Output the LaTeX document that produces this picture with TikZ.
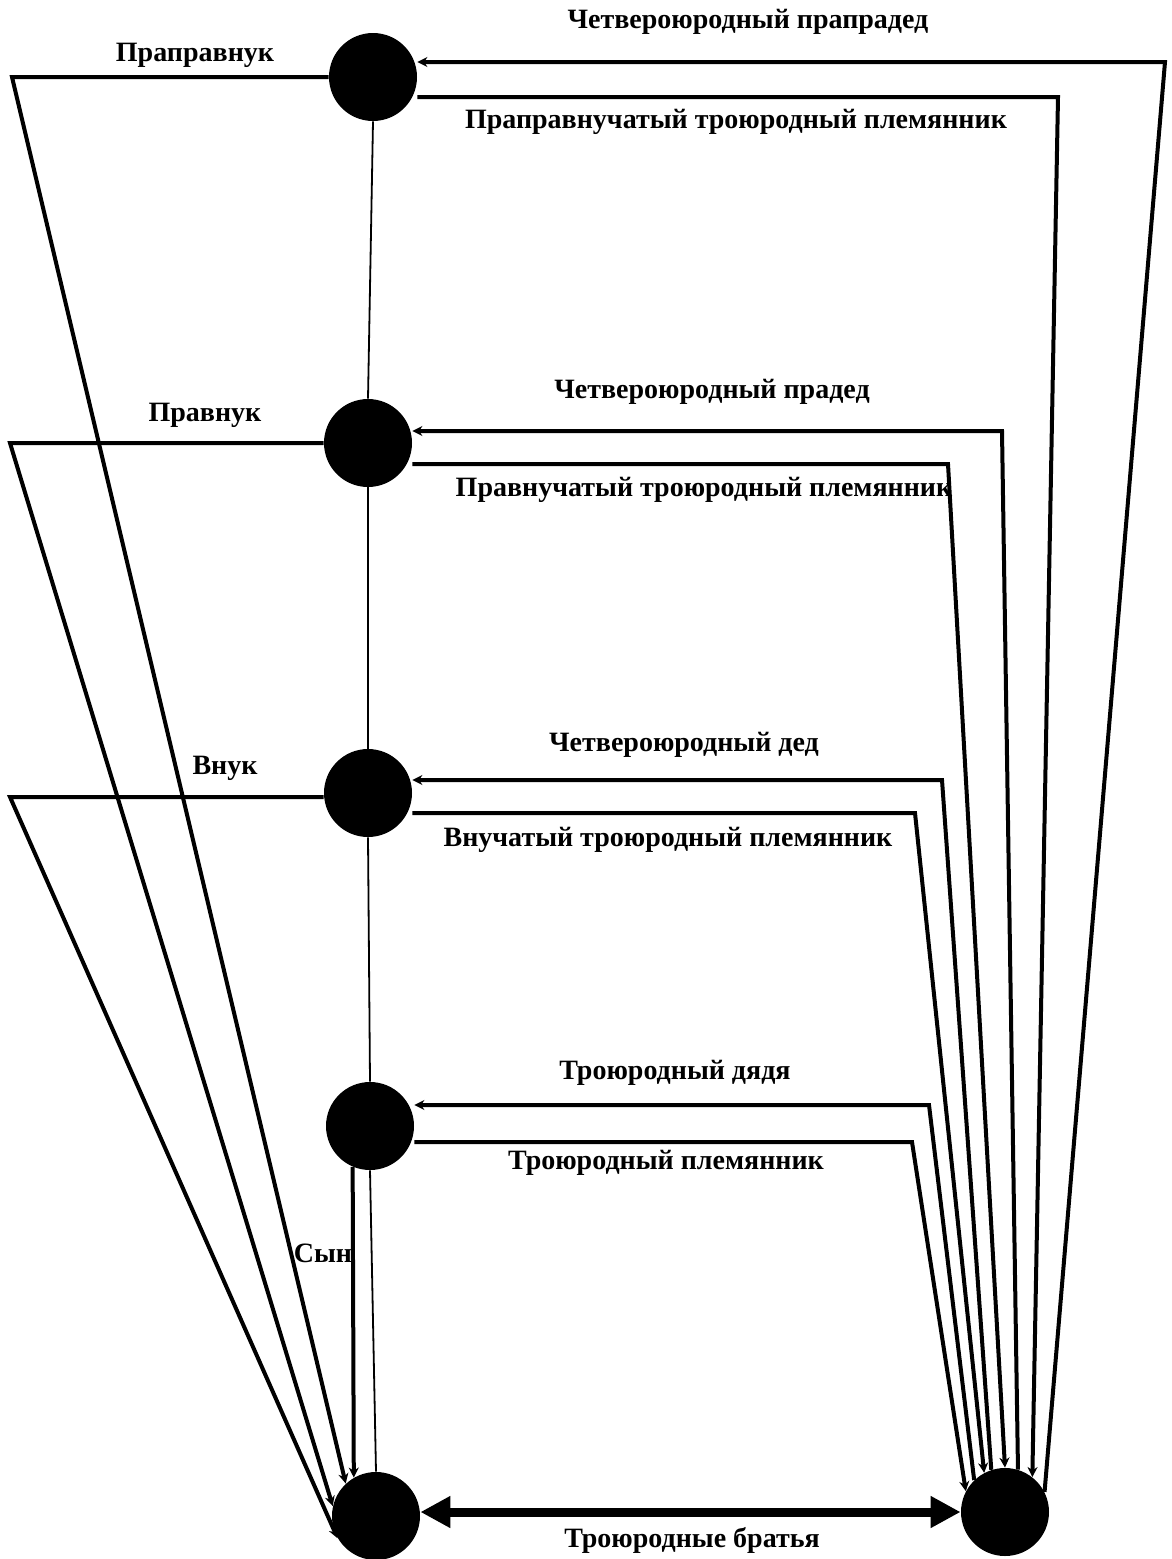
\documentclass[tikz,border=0pt]{standalone}
\usepackage{fontspec}
\setmainfont{Liberation Serif}
\usetikzlibrary{arrows.meta}

\begin{document}
\begin{tikzpicture}[x=0.5pt, y=-0.5pt,
  person/.style={circle, fill=black, minimum size=44pt, inner sep=0pt},
  link/.style={line width=2pt, -{Stealth[length=5pt,width=5pt]}},
  chain/.style={line width=0.9pt},
  kin/.style={font=\bfseries\fontsize{14}{16}\selectfont, inner sep=0pt},
  brothers/.style={line width=4.5pt,
    {Triangle[length=15pt,width=15pt]}-{Triangle[length=15pt,width=15pt]}}]
  \useasboundingbox (0,0) rectangle (1172,1559);
  \node[person] (n1) at (373,77) {};
  \node[person] (n2) at (368,443) {};
  \node[person] (n3) at (368,793) {};
  \node[person] (n4) at (370,1126) {};
  \node[person] (bl) at (376,1516) {};
  \node[person] (br) at (1005,1512) {};
  \draw[chain] (n1.south) -- (n2.north);
  \draw[chain] (n2.south) -- (n3.north);
  \draw[chain] (n3.south) -- (n4.north);
  \draw[chain] (n4.south) -- (bl.north);
  \coordinate (p1) at (12,77);
  \coordinate (p2) at (10,443);
  \coordinate (p3) at (10,797);
  \draw[link] (n1.west) -- (p1) -- (bl.133);
  \draw[link] (n2.west) -- (p2) -- (bl.167);
  \draw[link] (n3.west |- p3) -- (p3) -- (bl.210);
  \draw[link] (n4.247) -- (bl.120);
  \coordinate (u1) at (1165,62);
  \coordinate (l1) at (1058,97);
  \coordinate (u2) at (1002,431);
  \coordinate (l2) at (948,464);
  \coordinate (u3) at (942,780);
  \coordinate (l3) at (915,813);
  \coordinate (u4) at (929,1105);
  \coordinate (l4) at (912,1142);
  \draw[link] (br.27) -- (u1) -- (u1 -| n1.east);
  \draw[link] (l1 -| n1.east) -- (l1) -- (br.52);
  \draw[link] (br.73) -- (u2) -- (u2 -| n2.east);
  \draw[link] (l2 -| n2.east) -- (l2) -- (br.90);
  \draw[link] (br.108) -- (u3) -- (u3 -| n3.east);
  \draw[link] (l3 -| n3.east) -- (l3) -- (br.118);
  \draw[link] (br.134) -- (u4) -- (u4 -| n4.east);
  \draw[link] (l4 -| n4.east) -- (l4) -- (br.152);
  \draw[brothers] (bl.east |- br.west) -- (br.west);
  \node[kin] (k1) at (748,22) {Четвероюродный прапрадед};
  \node[kin] (k2) at (195,55) {Праправнук};
  \node[kin] (k3) at (736,122) {Праправнучатый троюродный племянник};
  \node[kin] (k4) at (712,392) {Четвероюродный прадед};
  \node[kin] (k5) at (205,415) {Правнук};
  \node[kin] (k6) at (704,490) {Правнучатый троюродный племянник};
  \node[kin] (k7) at (684,745) {Четвероюродный дед};
  \node[kin] (k8) at (225,768) {Внук};
  \node[kin] (k9) at (668,840) {Внучатый троюродный племянник};
  \node[kin] (k10) at (675,1073) {Троюродный дядя};
  \node[kin] (k11) at (666,1163) {Троюродный племянник};
  \node[kin] (k12) at (323,1253) {Сын};
  \node[kin] (k13) at (692,1540) {Троюродные братья};
\end{tikzpicture}
\end{document}
